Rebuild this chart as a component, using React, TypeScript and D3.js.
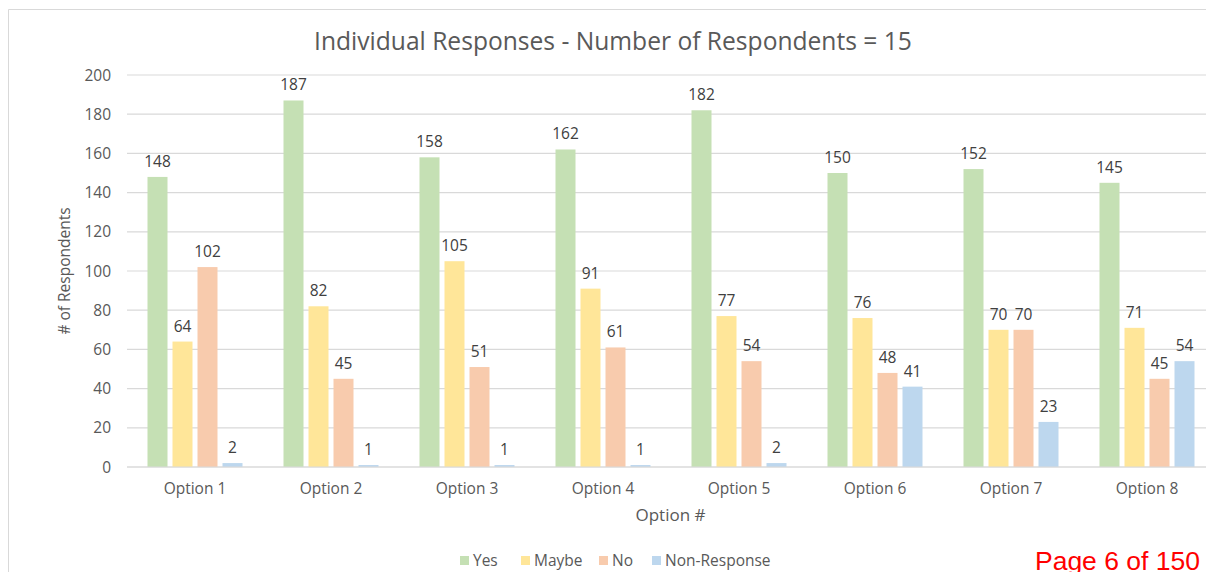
import React from 'react';
import * as d3 from 'd3';

const categories = ['Option 1', 'Option 2', 'Option 3', 'Option 4', 'Option 5', 'Option 6', 'Option 7', 'Option 8'];
const seriesNames = ['Yes', 'Maybe', 'No', 'Non-Response'];
const yesValues = [148, 187, 158, 162, 182, 150, 152, 145];
const maybeValues = [64, 82, 105, 91, 77, 76, 70, 71];
const noValues = [102, 45, 51, 61, 54, 48, 70, 45];
const nonResponseValues = [2, 1, 1, 1, 2, 41, 23, 54];
const yTicks = [0, 20, 40, 60, 80, 100, 120, 140, 160, 180, 200];
const colors = ['#C5E0B4', '#FFE699', '#F8CBAD', '#BDD7EE'];

const W = 1214;
const H = 580;
const margin = { top: 75, right: -1, bottom: 113, left: 127 };
const groupWidth = 95;
const font = '"Open Sans", "Noto Sans", sans-serif';

const App: React.FC = () => {
  const series = [yesValues, maybeValues, noValues, nonResponseValues];

  const x = d3.scaleBand<string>()
    .domain(categories)
    .range([margin.left, W - margin.right])
    .paddingInner(0)
    .paddingOuter(0);

  const inner = d3.scaleBand<string>()
    .domain(seriesNames)
    .range([0, groupWidth])
    .paddingInner(0.2)
    .paddingOuter(0);

  const y = d3.scaleLinear()
    .domain([0, 200])
    .range([H - margin.bottom, margin.top]);

  const groupOffset = (x.bandwidth() - groupWidth) / 2;

  // legend layout
  const legendX = [460, 521, 599, 652];

  return (
    <div style={{ margin: -8 }}>
      <svg width={W} height={H} style={{ display: 'block', background: '#fff' }} fontFamily={font}>
        {/* outer frame */}
        <path d={`M8.5,${H} V9.5 H${W}`} fill="none" stroke="#D9D9D9" strokeWidth={1} />

        <text x={613} y={50} textAnchor="middle" fontSize={24.6} fill="#595959">
          Individual Responses - Number of Respondents = 15
        </text>

        {/* gridlines + y ticks */}
        {yTicks.map(t => (
          <g key={t}>
            <line x1={margin.left} x2={W} y1={y(t)} y2={y(t)} stroke="#D9D9D9" strokeWidth={1.2} />
            <text x={111} y={y(t) + 5.5} textAnchor="end" fontSize={15.5} fill="#595959">{t}</text>
          </g>
        ))}

        {/* bars */}
        {categories.map((c, ci) => (
          <g key={c} transform={`translate(${x(c)! + groupOffset},0)`}>
            {series.map((vals, si) => {
              const v = vals[ci];
              const bx = inner(seriesNames[si])!;
              return (
                <g key={si}>
                  <rect x={bx} y={y(v)} width={inner.bandwidth()} height={y(0) - y(v)} fill={colors[si]} />
                  <text x={bx + inner.bandwidth() / 2} y={y(v) - 10} textAnchor="middle" fontSize={15.5} fill="#404040">{v}</text>
                </g>
              );
            })}
          </g>
        ))}

        {/* x axis line */}
        <line x1={margin.left} x2={W} y1={y(0)} y2={y(0)} stroke="#D9D9D9" strokeWidth={1.2} />

        {categories.map(c => (
          <text key={c} x={x(c)! + x.bandwidth() / 2} y={494} textAnchor="middle" fontSize={15.5} fill="#595959">{c}</text>
        ))}

        <text x={(margin.left + W) / 2} y={521} textAnchor="middle" fontSize={17} fill="#595959">Option #</text>

        <text transform={`translate(70,${(y(0) + y(200)) / 2}) rotate(-90)`} textAnchor="middle" fontSize={15.5} fill="#595959">
          # of Respondents
        </text>

        {/* legend */}
        {seriesNames.map((s, i) => (
          <g key={s}>
            <rect x={legendX[i]} y={556} width={9} height={9} fill={colors[i]} />
            <text x={legendX[i] + 13} y={566} fontSize={15.5} fill="#595959">{s}</text>
          </g>
        ))}

        <text x={1200} y={570} textAnchor="end" fontSize={26.5} fill="#FF0000" fontFamily='"Liberation Sans", Arial, sans-serif'>
          Page 6 of 150
        </text>
      </svg>
    </div>
  );
};

export default App;
